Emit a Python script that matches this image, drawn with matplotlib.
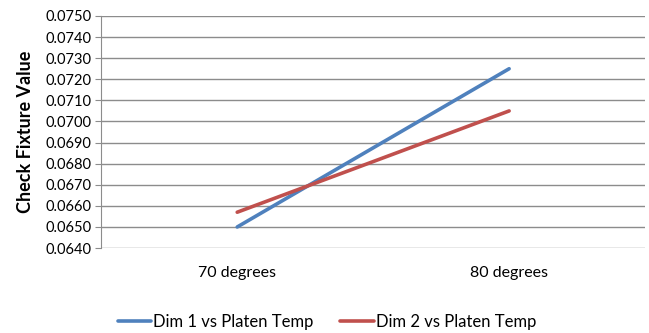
import matplotlib.pyplot as plt

# Chart data
categories = ['70 degrees', '80 degrees']
dim1 = [0.0650, 0.0725]
dim2 = [0.0657, 0.0705]
series_names = ['Dim 1 vs Platen Temp', 'Dim 2 vs Platen Temp']
yticks = [0.0640 + 0.001 * i for i in range(12)]

plt.rcParams['font.family'] = ['Lato', 'DejaVu Sans']

fig = plt.figure(figsize=(6.49, 3.33), dpi=100)
ax = fig.add_axes([0.156, 0.255, 0.838, 0.697])

x = range(len(categories))
ax.plot(x, dim1, color='#4F81BD', lw=2.6, solid_capstyle='round', label=series_names[0])
ax.plot(x, dim2, color='#C0504D', lw=2.6, solid_capstyle='round', label=series_names[1])

ax.set_xlim(-0.5, 1.5)
ax.set_ylim(0.0640, 0.0750)
ax.set_yticks(yticks)
ax.set_yticklabels(['%.4f' % v for v in yticks])
ax.set_xticks(list(x))
ax.set_xticklabels(categories)
ax.grid(axis='y', color='#8c8c8c', lw=1)
ax.set_axisbelow(True)
for s in ['top', 'right', 'bottom']:
    ax.spines[s].set_visible(False)
ax.spines['left'].set_color('#8c8c8c')
ax.tick_params(axis='y', labelsize=10.5, length=4, color='#8c8c8c', pad=3)
ax.tick_params(axis='x', labelsize=11.5, length=0, pad=13)
ax.set_ylabel('Check Fixture Value', fontsize=13, fontweight='bold', labelpad=8)

fig.legend(loc='lower center', bbox_to_anchor=(0.504, -0.035), ncol=2, frameon=False,
           fontsize=12, handlelength=2.0, handletextpad=0.15, columnspacing=1.6)

fig.savefig('out.png', dpi=100)
